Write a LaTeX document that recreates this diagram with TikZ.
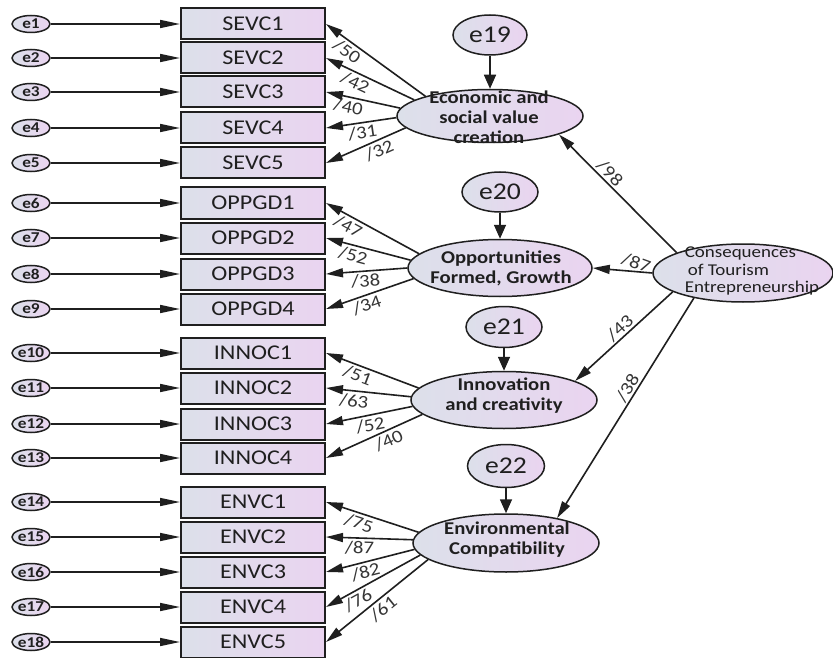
\documentclass[tikz,border=0pt]{standalone}
\usepackage{fontspec}
\setmainfont{Carlito}[FakeStretch=1.15]
\usetikzlibrary{shapes.geometric,arrows.meta}
\definecolor{lgb}{HTML}{DCE0EA}
\definecolor{lpk}{HTML}{EAD4F0}
\definecolor{ink}{HTML}{1F1F1F}
\tikzset{
 ind/.style={draw=ink, line width=2pt, rectangle, minimum width=144pt, minimum height=31pt, inner sep=0pt, left color=lgb, right color=lpk, font=\fontsize{21}{24}\selectfont, text=ink},
 errsm/.style={ellipse, draw=ink, line width=1.5pt, minimum width=38pt, minimum height=17pt, inner sep=0pt, left color=lgb, right color=lpk},
 etxt/.style={font=\bfseries\fontsize{15}{16}\selectfont, text=ink, inner sep=0pt},
 lat/.style={ellipse, draw=ink, line width=1.5pt, inner sep=0pt, left color=lgb, right color=lpk},
 lattxt/.style={font=\bfseries\fontsize{18}{20}\selectfont, align=center, text=ink, inner sep=0pt},
 errbig/.style={ellipse, draw=ink, line width=1.5pt, minimum width=75pt, minimum height=41pt, inner sep=0pt, left color=lgb, right color=lpk},
 ebtxt/.style={font=\fontsize{24}{26}\selectfont, text=ink, inner sep=0pt},
 conn/.style={draw=ink, line width=1.6pt},
 errarr/.style={conn, -{Triangle[length=20pt,width=8pt]}},
 loadarr/.style={conn, -{Triangle[length=17pt,width=9pt]}},
 vararr/.style={conn, -{Triangle[length=14pt,width=12pt]}},
 wlbl/.style={font=\fontsize{18}{20}\selectfont, text=ink!90, sloped, inner sep=1.5pt},
}
\begin{document}
\begin{tikzpicture}[x=1pt,y=-1pt]
\useasboundingbox[fill=white] (0,0) rectangle (833,658);
% indicators and their errors
\foreach \n/\t/\y in {1/SEVC1/24, 2/SEVC2/58, 3/SEVC3/92, 4/SEVC4/128, 5/SEVC5/163,
  6/OPPGD1/203, 7/OPPGD2/238, 8/OPPGD3/274, 9/OPPGD4/309,
  10/INNOC1/353, 11/INNOC2/388, 12/INNOC3/424, 13/INNOC4/458,
  14/ENVC1/502, 15/ENVC2/537, 16/ENVC3/572, 17/ENVC4/607, 18/ENVC5/642}{
  \node[errsm] (e\n) at (31,\y) {};
  \node[etxt] (et\n) at (e\n) {e\n};
  \node[ind] (r\n) at (253,\y) {\t};
  \draw[errarr] (e\n) -- (r\n);
}
% latent variables
\node[lat, minimum width=186pt, minimum height=53pt] (econ) at (490,116) {};
\node[lattxt] (econt) at (489,117) {Economic and\\social value\\creation};
\node[lat, minimum width=184pt, minimum height=57pt] (opp) at (500,268) {};
\node[lattxt] (oppt) at (501,268) {Opportunities\\Formed, Growth};
\node[lat, minimum width=186pt, minimum height=57pt] (innov) at (504,400) {};
\node[lattxt] (innovt) at (504,396) {Innovation\\and creativity};
\node[lat, minimum width=186pt, minimum height=58pt] (env) at (506,543) {};
\node[lattxt] (envt) at (507,540) {Environmental\\Compatibility};
\node[lat, minimum width=180pt, minimum height=58pt] (cons) at (743,273) {};
\node[font=\fontsize{16.5}{17.5}\selectfont, align=left, text=ink, inner sep=0pt] (const) at (752,271) {Consequences\\\hspace{3pt}of Tourism\\Entrepreneurship};
% disturbances
\node[errbig, minimum width=74pt, minimum height=40pt] (e19) at (490,35) {};
\node[ebtxt] (e19t) at (e19) {e19};
\node[errbig, minimum width=76pt, minimum height=40pt] (e20) at (500,192) {};
\node[ebtxt] (e20t) at (e20) {e20};
\node[errbig, minimum width=76pt, minimum height=41pt] (e21) at (504,327) {};
\node[ebtxt] (e21t) at (e21) {e21};
\node[errbig, minimum width=77pt, minimum height=43pt] (e22) at (506,466) {};
\node[ebtxt] (e22t) at (e22) {e22};
\draw[vararr] (e19) -- (econ);
\draw[vararr] (e20) -- (opp);
\draw[vararr] (e21) -- (innov);
\draw[vararr] (e22) -- (env);
% structural paths
\draw[loadarr] (cons.163.6) -- (econ.345) node[wlbl, pos=.62, above] {/98};
\draw[loadarr] (cons.west) -- (opp.east) node[wlbl, pos=.32, above, rotate=-15] {/87};
\draw[loadarr] (cons.195.3) -- (innov.15.1) node[wlbl, pos=.48, above] {/43};
\draw[loadarr] (cons.207.5) -- (env.26.6) node[wlbl, pos=.43, above] {/38};
% loadings
\draw[loadarr] (econ.163) -- (r1.east) node[wlbl, pos=.73, below=1pt] {/50};
\draw[loadarr] (econ.168) -- (r2.east) node[wlbl, pos=.62, below=1pt] {/42};
\draw[loadarr] (econ.175) -- (r3.east) node[wlbl, pos=.67, below=1pt] {/40};
\draw[loadarr] (econ.181) -- (r4.east) node[wlbl, pos=.50, below=1pt] {/31};
\draw[loadarr] (econ.188) -- (r5.east) node[wlbl, pos=.38, below=1pt] {/32};
\draw[loadarr] (opp.170) -- (r6.east) node[wlbl, pos=.71, below=1pt] {/47};
\draw[loadarr] (opp.175) -- (r7.east) node[wlbl, pos=.65, below=1pt] {/52};
\draw[loadarr] (opp.180.6) -- (r8.east) node[wlbl, pos=.52, below=1pt] {/38};
\draw[loadarr] (opp.187) -- (r9.east) node[wlbl, pos=.57, below=1pt] {/34};
\draw[loadarr] (innov.172) -- (r10.east) node[wlbl, pos=.62, below=1pt] {/51};
\draw[loadarr] (innov.178) -- (r11.east) node[wlbl, pos=.66, below=1pt] {/63};
\draw[loadarr] (innov.184) -- (r12.east) node[wlbl, pos=.51, below=1pt] {/52};
\draw[loadarr] (innov.190) -- (r13.east) node[wlbl, pos=.39, below=1pt] {/40};
\draw[loadarr] (env.173.6) -- (r14.east) node[wlbl, pos=.61, below=1pt] {/75};
\draw[loadarr] (env.178.7) -- (r15.east) node[wlbl, pos=.61, below=1pt] {/87};
\draw[loadarr] (env.184.5) -- (r16.east) node[wlbl, pos=.58, below=1pt] {/82};
\draw[loadarr] (env.188) -- (r17.east) node[wlbl, pos=.71, below=1pt] {/76};
\draw[loadarr] (env.192.3) -- (r18.east) node[wlbl, pos=.50, below=1pt] {/61};
\end{tikzpicture}
\end{document}
